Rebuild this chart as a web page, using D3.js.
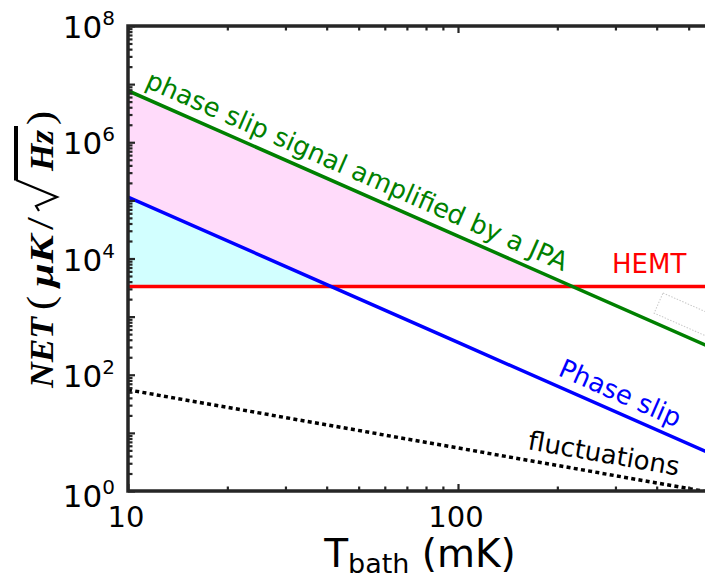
<!DOCTYPE html>
<html><head><meta charset="utf-8">
<script src="https://cdn.jsdelivr.net/npm/d3@7"></script>
<style>body{margin:0;background:#fff} svg{display:block}</style>
</head><body><svg id="c" width="705" height="578"></svg>
<script>
// ---- data ----
const temps        = [10, 100, 1000];          // T_bath (mK)
const jpaNET       = [7.7e6, 2.43e4, 77];      // phase slip signal amplified by a JPA
const phaseSlipNET = [1.14e5, 360, 1.14];      // Phase slip
const fluctNET     = [55, 5.5, 0.55];          // fluctuations
const hemtNET      = [3300, 3300, 3300];       // HEMT
const xTickLabels  = [10, 100];
const yTickExps    = [0, 2, 4, 6, 8];
const seriesNames  = ["phase slip signal amplified by a JPA", "Phase slip", "fluctuations", "HEMT"];

// ---- layout ----
const svg = d3.select("#c");
const L = 128, T = 26, B = 491, R = 788;
const x = d3.scaleLog().domain([10, 1000]).range([L, R]);
const y = d3.scaleLog().domain([1, 1e8]).range([B, T]);
const axisCol = "#262626";
const sans = "'DejaVu Sans', sans-serif";

const defs = svg.append("defs");
defs.append("clipPath").attr("id","plot").append("rect")
  .attr("x",L).attr("y",T).attr("width",R-L).attr("height",B-T);
defs.append("clipPath").attr("id","aboveHemt").append("rect")
  .attr("x",L).attr("y",T).attr("width",R-L).attr("height",y(hemtNET[0])-T);

const pts = v => temps.map((t,i)=>({t, v:v[i], h:hemtNET[i]}));
const line = d3.line().x(d=>x(d.t)).y(d=>y(d.v));
const area = d3.area().x(d=>x(d.t)).y0(d=>y(d.h)).y1(d=>y(d.v));

const gPlot = svg.append("g").attr("clip-path","url(#plot)");
const gFill = gPlot.append("g").attr("clip-path","url(#aboveHemt)");
gFill.append("path").attr("d", area(pts(jpaNET))).attr("fill","#ffdbfa");
gFill.append("path").attr("d", area(pts(phaseSlipNET))).attr("fill","#d2ffff");

gPlot.append("path").attr("d", line(pts(hemtNET))).attr("fill","none").attr("stroke","#ff0000").attr("stroke-width",3.5);
gPlot.append("path").attr("d", line(pts(jpaNET))).attr("fill","none").attr("stroke","#008000").attr("stroke-width",3.5);
gPlot.append("path").attr("d", line(pts(phaseSlipNET))).attr("fill","none").attr("stroke","#0000ff").attr("stroke-width",3.5);
gPlot.append("path").attr("d", line(pts(fluctNET))).attr("fill","none").attr("stroke","#000").attr("stroke-width",3.5)
  .attr("stroke-dasharray","4,3.3");

// ---- axes ----
const majX = [10,100,1000];
const minX = []; [10,100].forEach(d=>{for(let m=2;m<=9;m++) minX.push(m*d);});
const majY = d3.range(0,9).map(k=>Math.pow(10,k));
const minY = []; d3.range(0,8).forEach(k=>{for(let m=2;m<=9;m++) minY.push(m*Math.pow(10,k));});

function styleAxis(g){ g.select(".domain").remove(); g.selectAll(".tick line").attr("stroke",axisCol).attr("stroke-width",2.2); g.selectAll(".tick text").remove(); }
svg.append("g").attr("transform",`translate(0,${B})`).call(d3.axisBottom(x).tickValues(majX).tickSize(-7)).call(styleAxis);
svg.append("g").attr("transform",`translate(0,${B})`).call(d3.axisBottom(x).tickValues(minX).tickSize(-4.5)).call(styleAxis);
svg.append("g").attr("transform",`translate(0,${T})`).call(d3.axisTop(x).tickValues(majX).tickSize(-7)).call(styleAxis);
svg.append("g").attr("transform",`translate(0,${T})`).call(d3.axisTop(x).tickValues(minX).tickSize(-4.5)).call(styleAxis);
svg.append("g").attr("transform",`translate(${L},0)`).call(d3.axisLeft(y).tickValues(majY).tickSize(-7)).call(styleAxis);
svg.append("g").attr("transform",`translate(${L},0)`).call(d3.axisLeft(y).tickValues(minY).tickSize(-4.5)).call(styleAxis);

// box
svg.append("path").attr("d",`M${R},${T}H${L}V${B}H${R}`).attr("fill","none").attr("stroke",axisCol).attr("stroke-width",3.5).attr("stroke-linecap","square");

// x tick labels
svg.selectAll(".xtl").data(xTickLabels).join("text").attr("class","xtl")
  .attr("x",d=>x(d)-2).attr("y",527).attr("text-anchor","middle")
  .attr("font-family",sans).attr("font-size",29).attr("fill","#000").text(d=>d);

// y tick labels (10^k)
const ytl = svg.selectAll(".ytl").data(yTickExps).join("text").attr("class","ytl")
  .attr("x",115).attr("y",d=>y(Math.pow(10,d)) + (d===0?16:12)).attr("text-anchor","end")
  .attr("font-family",sans).attr("font-size",31).attr("fill","#000");
ytl.append("tspan").text("10");
ytl.append("tspan").attr("font-size",20).attr("dy",-13).text(d=>d);

// x label
const xl = svg.append("text").attr("x",420).attr("y",567).attr("text-anchor","middle")
  .attr("font-family",sans).attr("font-size",39).attr("fill","#000");
xl.append("tspan").text("T");
xl.append("tspan").attr("font-size",27).attr("dy",6).text("bath");
xl.append("tspan").attr("dy",-6).text(" (mK)");

// y label: NET (μK/√Hz) — pieces placed along the rotated baseline
const yl = svg.append("g").attr("transform","translate(53,388) rotate(-90)");
const serif = "'Liberation Serif', 'Times New Roman', serif";
const ylPieces = [
  {s:"NET", b:true,  x0:0,   w:71, fs:34},
  {s:"(",   b:false, x0:78,  w:14, fs:38},
  {s:"μK",  b:true,  x0:101, w:52, fs:34},
  {s:"/",   b:false, x0:158, w:13, fs:38},
  {s:"Hz",  b:true,  x0:217, w:41, fs:34},
  {s:")",   b:false, x0:263, w:14, fs:38}
];
ylPieces.forEach(p=>{
  yl.append("text").attr("x",p.x0).attr("y",0).text(p.s)
    .attr("font-family",serif).attr("font-size",p.fs).attr("fill","#000")
    .attr("font-weight",p.b?"bold":"normal").attr("font-style",p.b?"italic":"normal")
    .attr("textLength",p.w).attr("lengthAdjust","spacingAndGlyphs");
});
const r0 = 177;
yl.append("path").attr("d",`M${r0},-14 L${r0+5},-17 L${r0+14},4 L${r0+31},-37`)
  .attr("fill","none").attr("stroke","#000").attr("stroke-width",2.2).attr("stroke-linejoin","miter");
yl.append("line").attr("x1",r0+30.5).attr("x2",262).attr("y1",-37).attr("y2",-37)
  .attr("stroke","#000").attr("stroke-width",4);

// ---- series labels ----
function polyY(vals, px){
  const p = temps.map((t,i)=>[x(t), y(vals[i])]);
  for(let i=0;i<p.length-1;i++){
    if(px>=p[i][0] && px<=p[i+1][0]){ const f=(px-p[i][0])/(p[i+1][0]-p[i][0]); return p[i][1]+f*(p[i+1][1]-p[i][1]); }
  }
  return p[p.length-1][1];
}
function angleOf(vals){ return Math.atan2(y(vals[1])-y(vals[0]), x(temps[1])-x(temps[0]))*180/Math.PI; }
function slanted(vals, px, off, txt, col){
  const py = polyY(vals, px) - off;
  svg.append("text").attr("transform",`translate(${px},${py}) rotate(${angleOf(vals)})`)
    .attr("font-family",sans).attr("font-size",26).attr("fill",col).text(txt);
}
slanted(jpaNET, 144, 11, seriesNames[0], "#008000");
slanted(phaseSlipNET, 557, 11, seriesNames[1], "#0000ff");
slanted(fluctNET, 527, 11, seriesNames[2], "#000");
svg.append("text").attr("x",612).attr("y",273).attr("font-family",sans).attr("font-size",26)
  .attr("fill","#ff0000").text(seriesNames[3]);

// faint empty box (leftover annotation frame)
svg.append("rect").attr("transform",`translate(663,293) rotate(${angleOf(jpaNET)})`)
  .attr("width",60).attr("height",22).attr("fill","none").attr("stroke","#c8c8c8")
  .attr("stroke-width",1).attr("stroke-dasharray","1.5,1.5");
</script></body></html>
